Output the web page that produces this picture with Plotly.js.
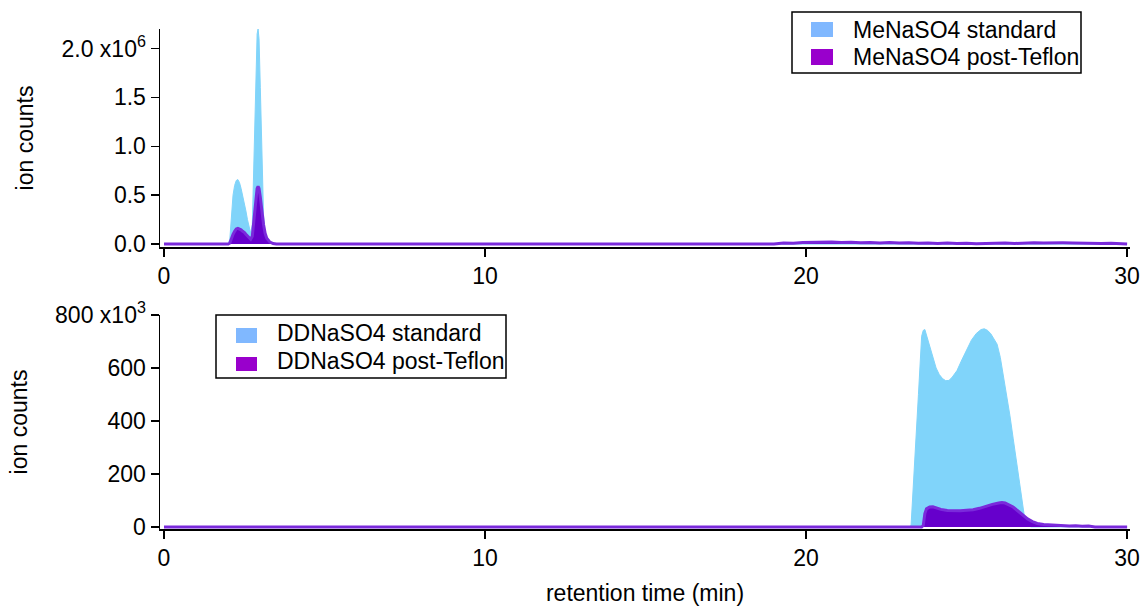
<!DOCTYPE html>
<html>
<head>
<meta charset="utf-8">
<script src="https://cdn.plot.ly/plotly-3.0.1.min.js"></script>
<style>html,body{margin:0;padding:0;background:#fff;}#chart{width:1142px;height:606px;}</style>
</head>
<body>
<div id="chart"></div>
<script>
// ---- Top panel: MeNaSO4 (ion counts, x10^6) ----
var meStdTime = [0, 2.0, 2.05, 2.1, 2.15, 2.2, 2.25, 2.3, 2.35, 2.4, 2.45, 2.5, 2.55, 2.6, 2.65, 2.7, 2.75, 2.8, 2.85, 2.9, 2.93, 2.96, 3.0, 3.05, 3.1, 3.15, 3.2, 3.3, 3.4, 30];
var meStdVal  = [0, 0, 0.05, 0.3, 0.5, 0.6, 0.65, 0.66, 0.63, 0.57, 0.5, 0.42, 0.34, 0.25, 0.16, 0.11, 0.2, 0.9, 1.7, 2.15, 2.2, 2.1, 1.6, 0.8, 0.3, 0.1, 0.04, 0.01, 0, 0];
var mePostTime = [0, 2.0, 2.05, 2.1, 2.15, 2.2, 2.25, 2.3, 2.35, 2.4, 2.45, 2.5, 2.55, 2.6, 2.65, 2.7, 2.75, 2.8, 2.85, 2.9, 2.93, 2.96, 3.0, 3.05, 3.1, 3.15, 3.2, 3.3, 3.4, 3.5, 19.0,
  19.3, 19.6, 19.9, 20.2, 20.5, 20.8, 21.1, 21.4, 21.7, 22.0, 22.3, 22.6, 22.9, 23.2, 23.5, 23.8, 24.1, 24.4, 24.7, 25.0, 25.3, 25.6, 25.9, 26.2, 26.5, 26.8, 27.1, 27.4, 27.7, 28.0, 28.3, 28.6, 28.9, 29.2, 29.5, 29.8, 30];
var mePostVal  = [0, 0, 0.01, 0.06, 0.1, 0.13, 0.155, 0.16, 0.155, 0.145, 0.13, 0.12, 0.1, 0.08, 0.06, 0.05, 0.08, 0.25, 0.45, 0.57, 0.59, 0.57, 0.48, 0.33, 0.2, 0.11, 0.06, 0.02, 0.005, 0, 0,
  0.012, 0.008, 0.015, 0.018, 0.014, 0.02, 0.016, 0.019, 0.013, 0.017, 0.012, 0.015, 0.01, 0.013, 0.008, 0.011, 0.006, 0.01, 0.005, 0.009, 0.004, 0.008, 0.005, 0.01, 0.006, 0.012, 0.014, 0.011, 0.015, 0.013, 0.012, 0.009, 0.011, 0.006, 0.008, 0.005, 0];

// ---- Bottom panel: DDNaSO4 (ion counts, x10^3) ----
var ddStdTime = [0, 23.2, 23.27, 23.3, 23.4, 23.5, 23.6, 23.65, 23.7, 23.75, 23.85, 23.95, 24.05, 24.15, 24.25, 24.35, 24.45, 24.55, 24.7, 24.85, 25.0, 25.15, 25.3, 25.45, 25.55, 25.65, 25.75, 25.85, 25.95, 26.05, 26.15, 26.25, 26.35, 26.45, 26.55, 26.65, 26.72, 26.8, 26.9, 27.0, 30];
var ddStdVal  = [0, 0, 5, 65, 280, 500, 720, 742, 745, 725, 685, 640, 600, 575, 560, 552, 553, 565, 590, 630, 670, 705, 730, 745, 748, 742, 730, 710, 690, 640, 570, 500, 420, 335, 250, 160, 100, 40, 10, 0, 0];
var ddPostTime = [0, 23.6, 23.65, 23.7, 23.75, 23.85, 23.95, 24.05, 24.2, 24.4, 24.6, 24.8, 25.0, 25.2, 25.4, 25.6, 25.8, 26.0, 26.1, 26.2, 26.3, 26.45, 26.6, 26.75, 26.9, 27.05, 27.2, 27.4, 27.6, 27.8, 28.0, 28.2, 28.4, 28.6, 28.8, 29.0, 30];
var ddPostVal  = [0, 0, 5, 50, 68, 75, 76, 72, 66, 62, 61, 61, 63, 65, 70, 78, 85, 90, 92, 90, 85, 75, 60, 45, 30, 20, 13, 9, 7, 5, 4, 3, 4, 2, 3, 0, 0];

var meNames = ['MeNaSO4 standard', 'MeNaSO4 post-Teflon'];
var ddNames = ['DDNaSO4 standard', 'DDNaSO4 post-Teflon'];
var topTickVals = [0, 0.5, 1.0, 1.5, 2.0];
var topTickText = ['0.0', '0.5', '1.0', '1.5', '2.0 x10<sup>6</sup>'];
var botTickVals = [0, 200, 400, 600, 800];
var botTickText = ['0', '200', '400', '600', '800 x10<sup>3</sup>'];
var xTickVals = [0, 10, 20, 30];

var stdFill = '#80D4FA';
var postFill = '#6600CC';
var postLine = '#7A2ADB';
var stdSwatch = '#80B8FF';
var postSwatch = '#9900CC';

var traces = [
  {x: meStdTime, y: meStdVal, type: 'scatter', mode: 'lines', fill: 'tozeroy', fillcolor: stdFill, line: {color: stdFill, width: 1}, xaxis: 'x', yaxis: 'y', name: meNames[0], showlegend: false, hoverinfo: 'skip'},
  {x: mePostTime, y: mePostVal, type: 'scatter', mode: 'lines', fill: 'tozeroy', fillcolor: postFill, line: {color: postLine, width: 3}, xaxis: 'x', yaxis: 'y', name: meNames[1], showlegend: false, hoverinfo: 'skip'},
  {x: ddStdTime, y: ddStdVal, type: 'scatter', mode: 'lines', fill: 'tozeroy', fillcolor: stdFill, line: {color: stdFill, width: 1}, xaxis: 'x2', yaxis: 'y2', name: ddNames[0], showlegend: false, hoverinfo: 'skip'},
  {x: ddPostTime, y: ddPostVal, type: 'scatter', mode: 'lines', fill: 'tozeroy', fillcolor: postFill, line: {color: postLine, width: 3}, xaxis: 'x2', yaxis: 'y2', name: ddNames[1], showlegend: false, hoverinfo: 'skip'}
];

var fontFam = 'Liberation Sans, Arial, sans-serif';
var fs = 23;
var W = 1142, H = 606;
var M = {l: 160, r: 12, t: 29, b: 77};
var PW = W - M.l - M.r, PH = H - M.t - M.b;
function px(x) { return (x - M.l) / PW; }
function py(y) { return (H - M.b - y) / PH; }

var axisCommon = {
  showgrid: false, zeroline: false, showline: true, linecolor: '#000', linewidth: 1.5,
  ticks: 'outside', ticklen: 8, tickwidth: 1.5, tickcolor: '#000',
  tickfont: {family: fontFam, size: fs, color: '#000'}
};
function ax(extra) { return Object.assign({}, axisCommon, extra); }

// Hand-built legends (boxes, swatches, labels) in paper coordinates
function legendBox(x0, y0, x1, y1, sw, labels, textX, textY) {
  var shapes = [{type: 'rect', xref: 'paper', yref: 'paper', x0: px(x0), x1: px(x1), y0: py(y0), y1: py(y1),
    line: {color: '#000', width: 1.5}, fillcolor: '#fff', layer: 'above'}];
  var anns = [];
  var cols = [stdSwatch, postSwatch];
  for (var i = 0; i < 2; i++) {
    shapes.push({type: 'rect', xref: 'paper', yref: 'paper', x0: px(sw[i][0]), x1: px(sw[i][1]), y0: py(sw[i][2]), y1: py(sw[i][3]),
      line: {width: 0}, fillcolor: cols[i], layer: 'above'});
    anns.push({xref: 'paper', yref: 'paper', x: px(textX), y: py(textY[i]), xanchor: 'left', yanchor: 'middle',
      text: labels[i], showarrow: false, font: {family: fontFam, size: fs, color: '#000'}});
  }
  return {shapes: shapes, anns: anns};
}
var lg1 = legendBox(792, 12, 1081, 73, [[811, 833, 22, 37], [811, 833, 49, 65]], meNames, 851, [30, 57]);
var lg2 = legendBox(216, 315, 506, 378, [[236, 257, 328, 343], [236, 257, 357, 371]], ddNames, 275, [333, 361]);

var layout = {
  width: W, height: H,
  margin: M,
  paper_bgcolor: '#fff', plot_bgcolor: '#fff',
  font: {family: fontFam, size: fs, color: '#000'},
  showlegend: false,
  xaxis: ax({domain: [0, 1], range: [-0.125, 30.09], tickvals: xTickVals, anchor: 'y'}),
  yaxis: ax({domain: [0.564, 1], range: [-0.03, 2.2], tickvals: topTickVals, ticktext: topTickText, anchor: 'x',
    title: {text: 'ion counts', font: {family: fontFam, size: fs, color: '#000'}, standoff: 21}}),
  xaxis2: ax({domain: [0, 1], range: [-0.125, 30.09], tickvals: xTickVals, anchor: 'y2',
    title: {text: 'retention time (min)', font: {family: fontFam, size: fs, color: '#000'}, standoff: 15}}),
  yaxis2: ax({domain: [0, 0.428], range: [-8, 800], tickvals: botTickVals, ticktext: botTickText, anchor: 'x2',
    title: {text: 'ion counts', font: {family: fontFam, size: fs, color: '#000'}, standoff: 21}}),
  shapes: lg1.shapes.concat(lg2.shapes),
  annotations: lg1.anns.concat(lg2.anns)
};

Plotly.newPlot('chart', traces, layout, {displayModeBar: false, staticPlot: true});
</script>
</body>
</html>
